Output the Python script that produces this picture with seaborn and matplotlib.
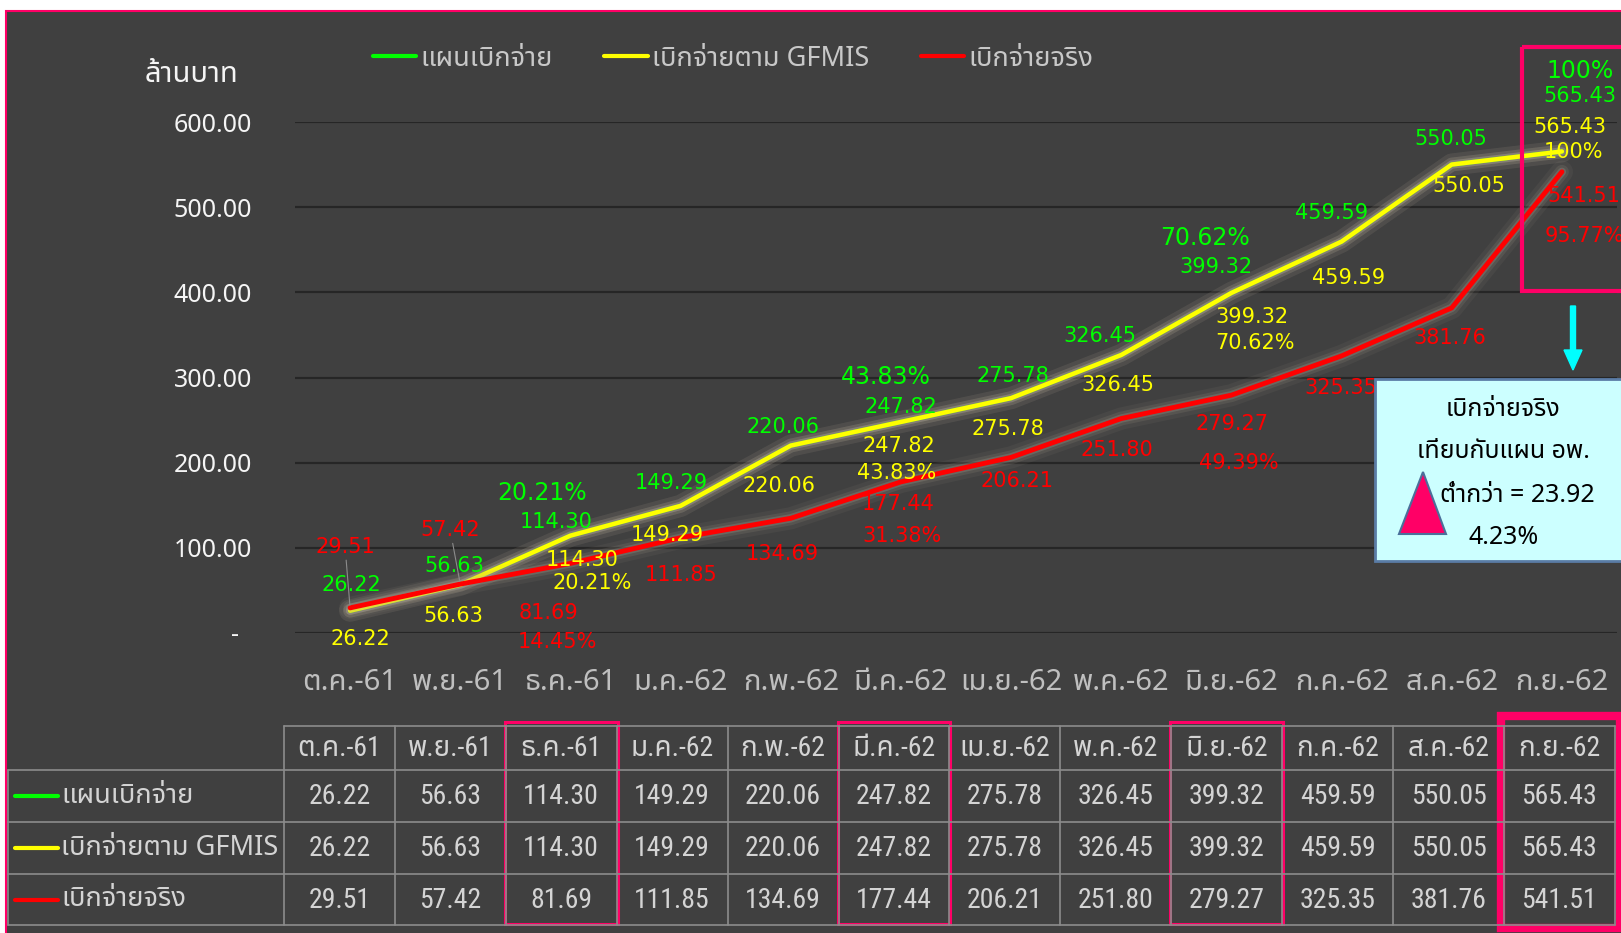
import matplotlib
matplotlib.use('Agg')
import matplotlib.pyplot as plt
import matplotlib.patheffects as pe
from matplotlib.lines import Line2D
from matplotlib.patches import Rectangle, Polygon, FancyArrow
from matplotlib import font_manager as fm
import pandas as pd
import seaborn as sns

months = ['ต.ค.-61', 'พ.ย.-61', 'ธ.ค.-61', 'ม.ค.-62', 'ก.พ.-62', 'มี.ค.-62',
          'เม.ย.-62', 'พ.ค.-62', 'มิ.ย.-62', 'ก.ค.-62', 'ส.ค.-62', 'ก.ย.-62']
plan = [26.22, 56.63, 114.30, 149.29, 220.06, 247.82, 275.78, 326.45, 399.32, 459.59, 550.05, 565.43]
gfmis = [26.22, 56.63, 114.30, 149.29, 220.06, 247.82, 275.78, 326.45, 399.32, 459.59, 550.05, 565.43]
actual = [29.51, 57.42, 81.69, 111.85, 134.69, 177.44, 206.21, 251.80, 279.27, 325.35, 381.76, 541.51]
series_names = ['แผนเบิกจ่าย', 'เบิกจ่ายตาม GFMIS', 'เบิกจ่ายจริง']
quarter_idx = [2, 5, 8, 11]
plan_pct = ['20.21%', '43.83%', '70.62%', '100%']
actual_pct = ['14.45%', '31.38%', '49.39%', '95.77%']
y_ticks = [0, 100, 200, 300, 400, 500, 600]
y_unit = 'ล้านบาท'
note_lines = ['เบิกจ่ายจริง', 'เทียบกับแผน อพ.', 'ต่ำกว่า = 23.92', '4.23%']
highlight_cols = [2, 5, 8]

# label offsets (px, y up) -- placement only
off_plan = [(1, 26), (-6, 19), (-14, 14), (-9, 23), (-8, 19), (0, 15), (2, 22), (-21, 19), (-15, 26), (-10, 29), (-1, 26), (18, 55)]
off_gf = [(10, -28), (-7, -31), (12, -24), (-13, -29), (-12, -40), (-2, -24), (-3, -31), (-3, -30), (21, -24), (7, -36), (17, -21), (8, 24)]
off_act = [(-5, 61), (-10, 54), (-22, -50), (0, -37), (-8, -36), (-3, -22), (6, -24), (-4, -31), (1, -29), (-1, -32), (-2, -30), (22, -24)]
off_plan_pct = [(-28, 43), (-15, 45), (-26, 55), (18, 80)]
off_gf_pct = [(22, -47), (-4, -51), (24, -50), (12, -1)]
off_act_pct = [(-13, -79), (1, -54), (7, -68), (22, -64)]

THAI = 'Noto Sans Thai'
COND = 'Roboto Condensed'

sns.set_style('dark')
plt.rcParams['font.family'] = ['DejaVu Sans', THAI]
TH = [THAI, 'DejaVu Sans']

GREEN, YELLOW, RED, PINK = '#00ff00', '#ffff00', '#ff0000', '#ff0066'
BG = '#404040'
W, H = 1621, 933

fig = plt.figure(figsize=(W / 100, H / 100), dpi=100, facecolor='white')

bg = fig.add_axes([0, 0, 1, 1], zorder=0)
bg.set_xlim(0, W); bg.set_ylim(H, 0); bg.axis('off')
bg.add_patch(Rectangle((6, 11), W, H, facecolor=BG, edgecolor=PINK, lw=1.5))

x0, x1, y0, y1 = 295, 1617, 633, 122
ax = fig.add_axes([x0 / W, 1 - y0 / H, (x1 - x0) / W, (y0 - y1) / H], zorder=2)
ax.set_facecolor('none')

df = pd.DataFrame({
    'idx': list(range(12)) * 3,
    'value': plan + gfmis + actual,
    'series': [s for s in series_names for _ in range(12)],
})
sns.lineplot(data=df, x='idx', y='value', hue='series', hue_order=series_names,
             palette=[GREEN, YELLOW, RED], linewidth=3.2, sort=False, legend=False, ax=ax)
glow = [pe.Stroke(linewidth=16, foreground='#a89f8f', alpha=0.08),
        pe.Stroke(linewidth=10, foreground='#a89f8f', alpha=0.15),
        pe.Stroke(linewidth=6, foreground='#b8af9f', alpha=0.22), pe.Normal()]
for ln in ax.lines:
    ln.set_path_effects(glow)
ax.lines[2].set_linewidth(3.5)

ax.set_xlim(-0.5, 11.5)
ax.set_ylim(0, 600)
ax.set_yticks(y_ticks)
ax.set_yticklabels(['-  ' if v == 0 else f'{v:.2f}' for v in y_ticks], fontsize=18, color='#f5f5f5',
                   family=['Noto Sans'], fontweight='medium')
ax.set_xticks(range(12))
ax.set_xticklabels(months, fontsize=21, color='#bfbfbf', family=TH)
ax.tick_params(axis='y', length=0, pad=31)
ax.tick_params(axis='x', length=0, pad=25)
ax.grid(axis='y', color='#262626', lw=1.6)
ax.grid(axis='x', visible=False)
for s in ax.spines.values():
    s.set_visible(False)
ax.set_xlabel(''); ax.set_ylabel('')


def lab(i, v, txt, off, color, size, lead=False):
    ax.annotate(txt, (i, v), xytext=(off[0] * 0.72, off[1] * 0.72), textcoords='offset points',
                ha='center', va='center', color=color, fontsize=size, annotation_clip=False,
                arrowprops=dict(arrowstyle='-', color='#8c8c8c', lw=0.8, shrinkA=0, shrinkB=2) if lead else None)


for i in range(12):
    lab(i, plan[i], f'{plan[i]:.2f}', off_plan[i], GREEN, 15)
    lab(i, gfmis[i], f'{gfmis[i]:.2f}', off_gf[i], YELLOW, 15)
    lab(i, actual[i], f'{actual[i]:.2f}', off_act[i], RED, 15, lead=i < 2)
for k, i in enumerate(quarter_idx):
    lab(i, plan[i], plan_pct[k], off_plan_pct[k], GREEN, 17)
    lab(i, gfmis[i], plan_pct[k], off_gf_pct[k], YELLOW, 15)
    lab(i, actual[i], actual_pct[k], off_act_pct[k], RED, 15)

handles = [Line2D([], [], color=c, lw=3) for c in (GREEN, YELLOW, RED)]
leg = fig.legend(handles, series_names, loc='center', bbox_to_anchor=(733 / W, 1 - 59 / H), ncol=3,
                 frameon=False, handlelength=1.6, handletextpad=0.15, columnspacing=1.9,
                 prop=fm.FontProperties(family=TH, size=19.6))
for t in leg.get_texts():
    t.set_color('#c8c8c8')

ov = fig.add_axes([0, 0, 1, 1], zorder=5)
ov.set_xlim(0, W); ov.set_ylim(H, 0); ov.axis('off'); ov.patch.set_alpha(0)
ov.text(192, 74, y_unit, ha='center', va='center', fontsize=21, color='#f5f5f5', family=TH)

# highlight box in chart + arrow + note
ov.add_patch(Rectangle((1522, 47), 110, 244, fill=False, edgecolor=PINK, lw=3))
ov.add_patch(FancyArrow(1573, 306, 0, 64, width=5, head_width=18, head_length=20,
                        length_includes_head=True, color='#00ffff'))
ov.add_patch(Rectangle((1375, 379), 260, 182, facecolor='#ccffff', edgecolor='#5a7ca6', lw=2))
ov.add_patch(Polygon([(1423, 472), (1399, 534), (1446, 534)], facecolor=PINK, edgecolor='#4a6f9a', lw=1.5))
for txt, xy in zip(note_lines, [(1503, 410), (1503, 452), (1517, 495), (1504, 538)]):
    ov.text(*xy, txt, ha='center', va='center', fontsize=18, color='black', family=TH)

# data table
cw = 110.9
cx0 = 284
edges = [cx0 + cw * k for k in range(13)]
rows_y = [726, 770, 822, 874, 925]
LC = '#8c8c8c'
ov.plot([edges[0], edges[-1]], [rows_y[0]] * 2, color=LC, lw=1.2)
for yy in rows_y[1:]:
    ov.plot([8, edges[-1]], [yy, yy], color=LC, lw=1.2)
for xx in edges:
    ov.plot([xx, xx], [rows_y[0], rows_y[-1]], color=LC, lw=1.2)
ov.plot([8, 8], [rows_y[1], rows_y[-1]], color=LC, lw=1.2)
TC = '#d4d4d4'
for k, m in enumerate(months):
    cxm = (edges[k] + edges[k + 1]) / 2
    ov.text(cxm, (rows_y[0] + rows_y[1]) / 2, m, ha='center', va='center', fontsize=20, color=TC,
            family=[COND, THAI])
    for r, vals in enumerate((plan, gfmis, actual)):
        ov.text(cxm, (rows_y[r + 1] + rows_y[r + 2]) / 2 + 1, f'{vals[k]:.2f}', ha='center', va='center',
                fontsize=20, color=TC, family=[COND, THAI])
for r, (name, c) in enumerate(zip(series_names, (GREEN, YELLOW, RED))):
    yc = (rows_y[r + 1] + rows_y[r + 2]) / 2
    ov.plot([15, 58], [yc, yc], color=c, lw=3, solid_capstyle='round')
    ov.text(61, yc, name, ha='left', va='center', fontsize=19.6, color=TC, family=TH)
for k in highlight_cols:
    ov.add_patch(Rectangle((edges[k] - 1, 722), cw + 2, 202, fill=False, edgecolor=PINK, lw=2.2))
ov.add_patch(Rectangle((edges[11] - 3, 716), cw + 8, 212, fill=False, edgecolor=PINK, lw=6))

fig.savefig('out.png', dpi=100, facecolor='white')
